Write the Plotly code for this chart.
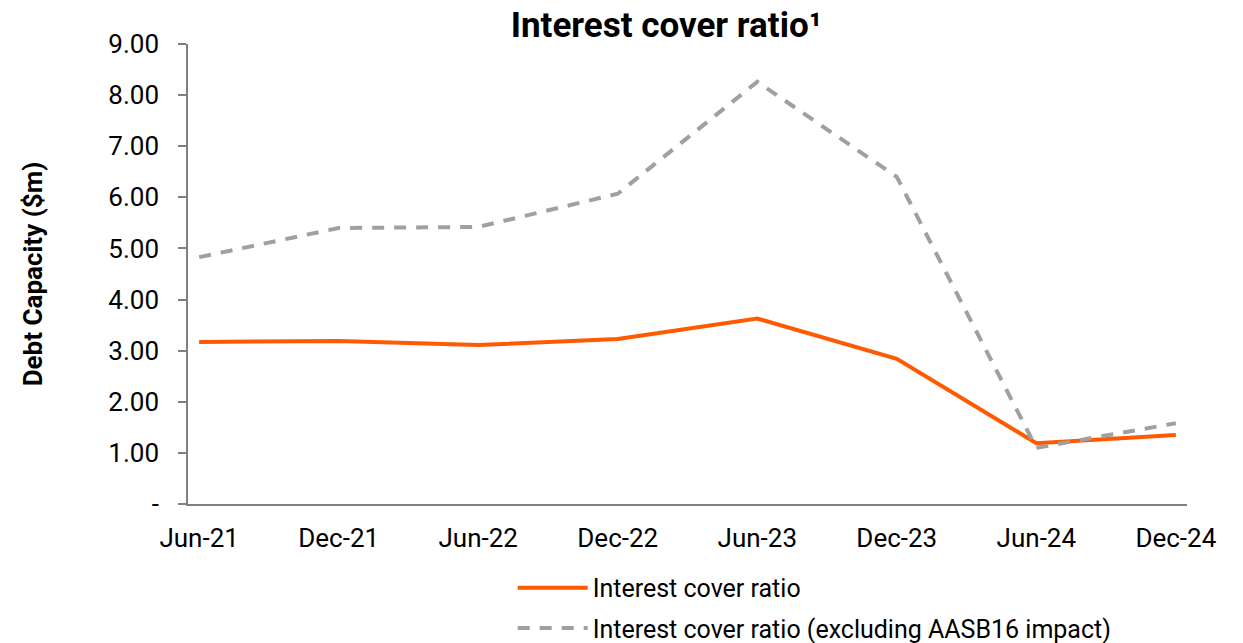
import plotly.graph_objects as go

periods = ["Jun-21", "Dec-21", "Jun-22", "Dec-22", "Jun-23", "Dec-23", "Jun-24", "Dec-24"]
icr = [3.17, 3.19, 3.11, 3.23, 3.63, 2.84, 1.19, 1.35]
icr_ex = [4.83, 5.40, 5.42, 6.07, 8.26, 6.40, 1.10, 1.58]
ytick_vals = [0, 1, 2, 3, 4, 5, 6, 7, 8, 9]
ytick_text = ["-", "1.00", "2.00", "3.00", "4.00", "5.00", "6.00", "7.00", "8.00", "9.00"]

x_idx = list(range(len(periods)))

fig = go.Figure()
fig.add_trace(go.Scatter(
    x=x_idx, y=icr, mode="lines", name="Interest cover ratio",
    line=dict(color="#FF5A00", width=4), legend="legend", showlegend=True))
fig.add_trace(go.Scatter(
    x=x_idx, y=icr_ex, mode="lines", name="Interest cover ratio (excluding AASB16 impact)",
    line=dict(color="#A0A0A0", width=4, dash="12px,10px"), legend="legend2", showlegend=True))

font = "Roboto, Arial, sans-serif"
fig.update_layout(
    width=1243, height=643,
    showlegend=True,
    margin=dict(l=188, r=56, t=44, b=139, autoexpand=False),
    paper_bgcolor="white", plot_bgcolor="white",
    font=dict(family=font, color="#000000", size=22),
    title=dict(text="<b>Interest cover ratio¹</b>", x=0.536, xanchor="center",
               y=0.962, yanchor="middle", font=dict(size=35, family=font, color="#000")),
    xaxis=dict(range=[-0.08, 7.08], tickvals=x_idx, ticktext=periods,
               showgrid=False, zeroline=False, showline=True, linecolor="#808080", linewidth=1.5,
               ticks="", tickfont=dict(size=26), ticklabelstandoff=10),
    yaxis=dict(range=[0, 9], tickvals=ytick_vals, ticktext=ytick_text,
               showgrid=False, zeroline=False, showline=True, linecolor="#808080", linewidth=1.5,
               ticks="outside", ticklen=8, tickcolor="#808080", tickwidth=1.5,
               tickfont=dict(size=26), ticklabelstandoff=14,
               title=dict(text="<b>Debt Capacity ($m)</b>", font=dict(size=26), standoff=58)),
    legend=dict(x=0.325, y=-0.1826, xanchor="left", yanchor="middle",
                font=dict(size=25), bgcolor="rgba(0,0,0,0)", itemwidth=70),
    legend2=dict(x=0.325, y=-0.27, xanchor="left", yanchor="middle",
                 font=dict(size=25), bgcolor="rgba(0,0,0,0)", itemwidth=70),
)

fig.write_html("out.html")
